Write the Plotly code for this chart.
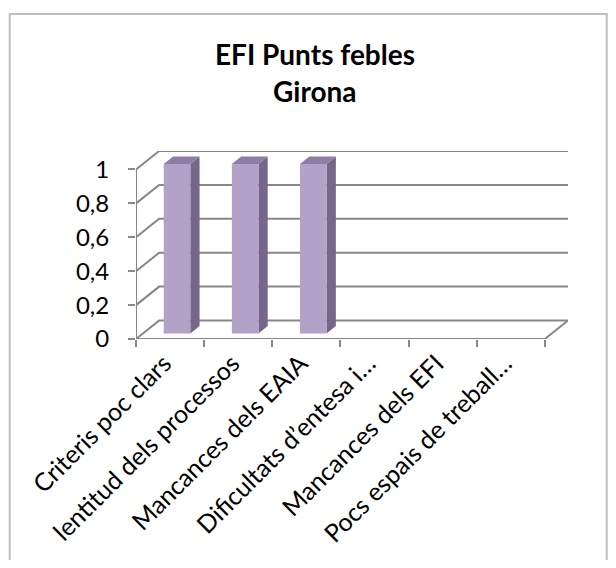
import plotly.graph_objects as go

# ---------------- data ----------------
categories = ["Criteris poc clars", "lentitud dels processos", "Mancances dels EAIA",
              "Dificultats d’entesa i…", "Mancances dels EFI", "Pocs espais de treball…"]
values = [1, 1, 1, 0, 0, 0]
y_tick_vals = [0, 0.2, 0.4, 0.6, 0.8, 1]
y_tick_text = ["0", "0,2", "0,4", "0,6", "0,8", "1"]
title_lines = ["EFI Punts febles", "Girona"]

# ---------------- style / pseudo-3D geometry ----------------
PAGE_W, PAGE_H = 616, 568
BODY = 8                      # default page margin around the figure
W, H = PAGE_W - 2 * BODY, PAGE_H - 2 * BODY
DEPTH_X = 0.34      # wall depth, in category units
DEPTH_Y = 0.109     # wall depth, in value units
BAR_W = 0.39
BAR_FRONT, BAR_BACK = 0.3, 0.7
FRONT = "#B3A2C7"
SIDE = "#76678A"
TOP = "#8E7DA5"
GRID = "#878787"
FONT = "Lato"

n = len(categories)
x_lo, x_hi = -0.5, n - 0.5
y_max = max(y_tick_vals)
x_range = [x_lo, x_hi + DEPTH_X]
y_range = [0, y_max + DEPTH_Y]

# plot-area placement, in page pixels
AXIS_X_PAGE, BASE_Y_PAGE = 135.5, 339.3
px_per_x = 68.25
px_per_y = 170.0
plot_w = (x_range[1] - x_range[0]) * px_per_x
plot_h = (y_range[1] - y_range[0]) * px_per_y
ML = AXIS_X_PAGE - BODY
MB = H - (BASE_Y_PAGE - BODY)
MR = W - ML - plot_w
MT = H - MB - plot_h

def paper_x(page_px):
    return (page_px - BODY - ML) / plot_w

def paper_y(page_py):
    return (H - MB - (page_py - BODY)) / plot_h

fig = go.Figure()

# grid: back wall lines + diagonals on the left wall
gx, gy = [], []
for v in y_tick_vals:
    gx += [x_lo, x_lo + DEPTH_X, x_hi + DEPTH_X, None]
    gy += [v, v + DEPTH_Y, v + DEPTH_Y, None]
# floor front edge and right diagonal
gx += [x_lo, x_hi, x_hi + DEPTH_X, None]
gy += [0, 0, DEPTH_Y, None]
# front vertical axis
gx += [x_lo, x_lo, None]
gy += [0, y_max, None]
fig.add_trace(go.Scatter(x=gx, y=gy, mode="lines", line=dict(color=GRID, width=2),
                         hoverinfo="skip", showlegend=False, xaxis="x", yaxis="y"))

# bar side and top faces
shift_x = BAR_FRONT * DEPTH_X
shift_y = BAR_FRONT * DEPTH_Y
sdx = (BAR_BACK - BAR_FRONT) * DEPTH_X
sdy = (BAR_BACK - BAR_FRONT) * DEPTH_Y
for i, v in enumerate(values):
    if v <= 0:
        continue
    xl = i - BAR_W / 2 + shift_x
    xr = i + BAR_W / 2 + shift_x
    b = shift_y
    t = b + v
    fig.add_trace(go.Scatter(x=[xr, xr + sdx, xr + sdx, xr, xr],
                             y=[b, b + sdy, t + sdy, t, b],
                             fill="toself", fillcolor=SIDE, mode="lines",
                             line=dict(width=0, color=SIDE), hoverinfo="skip",
                             showlegend=False, xaxis="x", yaxis="y"))
    fig.add_trace(go.Scatter(x=[xl, xl + sdx, xr + sdx, xr, xl],
                             y=[t, t + sdy, t + sdy, t, t],
                             fill="toself", fillcolor=TOP, mode="lines",
                             line=dict(width=0, color=TOP), hoverinfo="skip",
                             showlegend=False, xaxis="x", yaxis="y"))

# front faces of bars
fig.add_trace(go.Bar(x=categories, y=values, base=shift_y, width=BAR_W,
                     offset=-BAR_W / 2 + shift_x,
                     marker=dict(color=FRONT, line=dict(width=0)),
                     showlegend=False, xaxis="x2", yaxis="y"))

fig.update_layout(
    width=W, height=H,
    margin=dict(l=ML, r=MR, t=MT, b=MB, pad=0, autoexpand=False),
    paper_bgcolor="white", plot_bgcolor="rgba(0,0,0,0)",
    font=dict(family=FONT, color="black"),
    hovermode=False,
    xaxis=dict(range=x_range, visible=False, fixedrange=True, automargin=False),
    xaxis2=dict(type="category", categoryorder="array", categoryarray=categories,
                overlaying="x", anchor="y", side="bottom", range=x_range,
                tickson="boundaries", ticks="outside", ticklen=7, tickwidth=2,
                tickcolor=GRID, tickangle=-45, showgrid=False, showline=False,
                zeroline=False, automargin=False,
                ticklabelstandoff=4, ticklabelshift=-6,
                tickfont=dict(family=FONT, size=25, color="black")),
    yaxis=dict(range=y_range, tickvals=y_tick_vals, ticktext=y_tick_text,
               ticks="outside", ticklen=7, tickwidth=2, tickcolor=GRID,
               showgrid=False, zeroline=False, showline=False, automargin=False,
               ticklabelstandoff=14,
               tickfont=dict(family=FONT, size=24, color="black")),
    shapes=[dict(type="rect", xref="paper", yref="paper",
                 x0=paper_x(BODY + 1), x1=paper_x(607), y0=paper_y(600), y1=paper_y(13.5),
                 line=dict(color="#BFBFBF", width=2), fillcolor="rgba(0,0,0,0)",
                 layer="below")],
    annotations=[
        dict(text="<b>%s</b>" % title_lines[0], xref="paper", yref="paper",
             x=paper_x(315), y=paper_y(53), xanchor="center", yanchor="middle",
             showarrow=False, font=dict(family=FONT, size=28, color="black")),
        dict(text="<b>%s</b>" % title_lines[1], xref="paper", yref="paper",
             x=paper_x(315), y=paper_y(91), xanchor="center", yanchor="middle",
             showarrow=False, font=dict(family=FONT, size=28, color="black")),
    ],
)

fig.write_html("out.html")
